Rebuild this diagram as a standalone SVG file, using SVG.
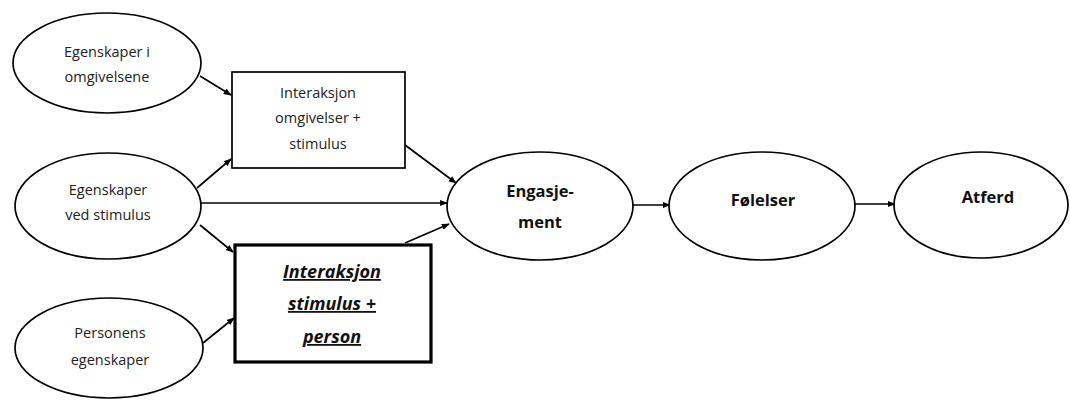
<svg xmlns="http://www.w3.org/2000/svg" width="1070" height="400" viewBox="0 0 1070 400">
<defs>
<marker id="ah" viewBox="0 0 10 10" refX="9" refY="5" markerWidth="8" markerHeight="8" orient="auto" markerUnits="userSpaceOnUse">
<path d="M0,1 L10,5 L0,9 z" fill="#000"/>
</marker>
<style>
.n{fill:#fff;stroke:#000;stroke-width:1.7}
.t{font-family:"Open Sans","Noto Sans",sans-serif;font-size:14.5px;fill:#222;text-anchor:middle}
.b{font-family:"Open Sans","Noto Sans",sans-serif;font-size:16.5px;font-weight:bold;fill:#111;text-anchor:middle}
.bi{font-family:"Open Sans","Noto Sans",sans-serif;font-size:18px;font-weight:bold;font-style:italic;text-decoration:underline;fill:#111;text-anchor:middle}
.c{stroke:#000;stroke-width:1.7;fill:none;marker-end:url(#ah)}
</style>
</defs>
<rect width="1070" height="400" fill="#fff"/>
<g id="connectors">
<line class="c" x1="200" y1="76" x2="231" y2="95"/>
<line class="c" x1="197" y1="188" x2="231" y2="159"/>
<line class="c" x1="201" y1="203" x2="447" y2="203"/>
<line class="c" x1="200" y1="225" x2="233" y2="252"/>
<line class="c" x1="203" y1="343" x2="234" y2="318"/>
<line class="c" x1="405" y1="145" x2="456" y2="183"/>
<line class="c" x1="405" y1="243" x2="449" y2="224"/>
<line class="c" x1="632" y1="205" x2="670" y2="205"/>
<line class="c" x1="855" y1="204" x2="895" y2="204"/>
</g>
<g id="n-omgivelsene">
<ellipse class="n" cx="107" cy="63" rx="94" ry="50"/>
<text class="t" x="107" y="57">Egenskaper i</text>
<text class="t" x="107" y="82">omgivelsene</text>
</g>
<g id="n-stimulus">
<ellipse class="n" cx="108" cy="206" rx="93" ry="53"/>
<text class="t" x="108" y="195">Egenskaper</text>
<text class="t" x="108" y="220">ved stimulus</text>
</g>
<g id="n-person">
<ellipse class="n" cx="109" cy="348" rx="94" ry="50"/>
<text class="t" x="110" y="338">Personens</text>
<text class="t" x="110" y="365">egenskaper</text>
</g>
<g id="n-int1">
<rect class="n" x="232" y="72" width="173" height="96"/>
<text class="t" x="318" y="98">Interaksjon</text>
<text class="t" x="318" y="123">omgivelser +</text>
<text class="t" x="318" y="149">stimulus</text>
</g>
<g id="n-int2">
<rect x="235" y="245" width="196" height="117" fill="#fff" stroke="#000" stroke-width="3.2"/>
<text class="bi" x="332" y="278">Interaksjon</text>
<text class="bi" x="332" y="310">stimulus +</text>
<text class="bi" x="332" y="343">person</text>
</g>
<g id="n-engasjement">
<ellipse class="n" cx="540" cy="206" rx="93" ry="54"/>
<text class="b" x="540" y="197">Engasje-</text>
<text class="b" x="540" y="228">ment</text>
</g>
<g id="n-folelser">
<ellipse class="n" cx="762" cy="206" rx="93" ry="54"/>
<text class="b" x="763" y="206">Følelser</text>
</g>
<g id="n-atferd">
<ellipse class="n" cx="981" cy="205" rx="87" ry="53"/>
<text class="b" x="988" y="203">Atferd</text>
</g>
</svg>
